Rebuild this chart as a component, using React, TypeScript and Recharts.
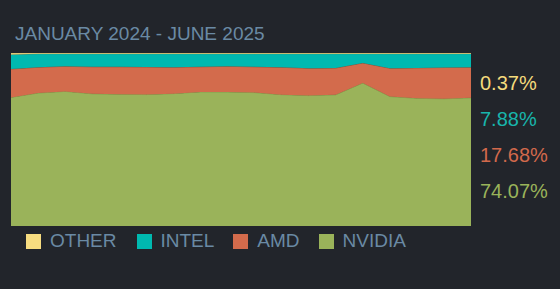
import { AreaChart, Area, XAxis, YAxis } from "recharts";

const months = [
  "2024-01", "2024-02", "2024-03", "2024-04", "2024-05", "2024-06",
  "2024-07", "2024-08", "2024-09", "2024-10", "2024-11", "2024-12",
  "2025-01", "2025-02", "2025-03", "2025-04", "2025-05", "2025-06",
];

const nvidia = [74.35, 76.84, 77.82, 76.43, 76.09, 75.97, 76.55, 77.53, 77.42, 77.13, 75.97, 75.39, 75.8, 82.63, 74.81, 73.77, 73.54, 74.07];
const amd = [16.4, 14.9, 14.5, 15.6, 15.9, 15.9, 15.3, 14.5, 14.9, 14.9, 15.8, 15.8, 15.5, 11.6, 16.4, 17.6, 18.1, 17.68];
const intel = [8.35, 7.86, 7.3, 7.6, 7.6, 7.7, 7.8, 7.6, 7.3, 7.6, 7.9, 8.4, 8.3, 5.4, 8.4, 8.2, 8.0, 7.88];
const other = [0.9, 0.4, 0.4, 0.4, 0.4, 0.4, 0.4, 0.4, 0.4, 0.4, 0.4, 0.4, 0.4, 0.37, 0.4, 0.4, 0.4, 0.37];

const vendors = ["OTHER", "INTEL", "AMD", "NVIDIA"];
const latest = ["0.37%", "7.88%", "17.68%", "74.07%"];

const colors: Record<string, string> = {
  OTHER: "#f7dc80",
  INTEL: "#00b9b0",
  AMD: "#d36b4c",
  NVIDIA: "#9ab35a",
};
const labelColors = ["#f5db7c", "#18b5ac", "#d2694b", "#9ab35a"];
const strokes: Record<string, string> = {
  OTHER: "#c9b468",
  INTEL: "#3f8a74",
  AMD: "#8e5a40",
  NVIDIA: "#85a04c",
};

const data = months.map((m, i) => ({
  month: m,
  NVIDIA: nvidia[i],
  AMD: amd[i],
  INTEL: intel[i],
  OTHER: other[i],
}));

const font = "Arial, 'Liberation Sans', sans-serif";

function App() {
  return (
    <div
      style={{
        position: "absolute",
        left: 0,
        top: 0,
        width: 560,
        height: 289,
        background: "#22252b",
        fontFamily: font,
      }}
    >
      <div
        style={{
          position: "absolute",
          left: 15,
          top: 22,
          fontSize: 19,
          lineHeight: "24px",
          color: "#6a8aa4",
        }}
      >
        JANUARY 2024 - JUNE 2025
      </div>

      <div style={{ position: "absolute", left: 11, top: 53 }}>
        <AreaChart
          width={460}
          height={173}
          data={data}
          stackOffset="expand"
          margin={{ top: 0, right: 0, bottom: 0, left: 0 }}
        >
          <XAxis dataKey="month" hide />
          <YAxis hide />
          {["NVIDIA", "AMD", "INTEL", "OTHER"].map((k) => (
            <Area
              key={k}
              type="linear"
              dataKey={k}
              stackId="1"
              fill={colors[k]}
              fillOpacity={1}
              stroke={strokes[k]}
              strokeWidth={1}
              isAnimationActive={false}
            />
          ))}
        </AreaChart>
      </div>

      {latest.map((t, i) => (
        <div
          key={t}
          style={{
            position: "absolute",
            left: 480,
            top: 71 + i * 36,
            fontSize: 20,
            lineHeight: "24px",
            color: labelColors[i],
          }}
        >
          {t}
        </div>
      ))}

      <div
        style={{
          position: "absolute",
          left: 26,
          top: 229,
          display: "flex",
          alignItems: "center",
          fontSize: 19,
          lineHeight: "24px",
          color: "#6a8aa4",
        }}
      >
        {vendors.map((v, i) => (
          <div
            key={v}
            style={{
              display: "flex",
              alignItems: "center",
              marginRight: [20, 19, 19, 0][i],
            }}
          >
            <span
              style={{
                display: "inline-block",
                width: 15,
                height: 15,
                background: colors[v],
                marginRight: 9,
              }}
            />
            <span>{v}</span>
          </div>
        ))}
      </div>
    </div>
  );
}

export default App;
